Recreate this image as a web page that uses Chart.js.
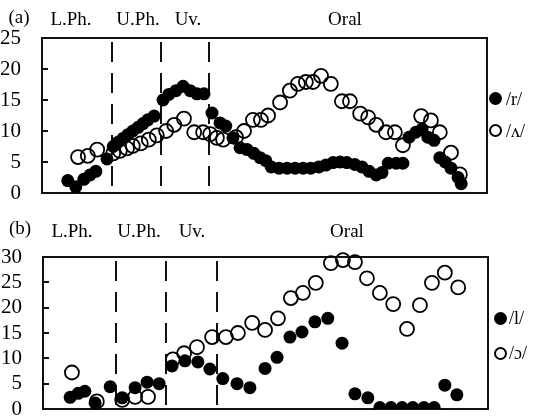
<!DOCTYPE html>
<html>
<head>
<meta charset="utf-8">
<script src="https://cdn.jsdelivr.net/npm/chart.js@4.4.0/dist/chart.umd.min.js"></script>
<style>
  body { margin: 0; background: #fff; width: 545px; height: 419px; position: relative; overflow: hidden;
         font-family: "Liberation Serif", "DejaVu Serif", serif; color: #000; }
  canvas { position: absolute; left: 0; }
  .lbl { position: absolute; font-size: 19px; line-height: 19px; white-space: nowrap; transform: translateX(-50%); }
  .key { position: absolute; font-size: 18px; line-height: 18px; white-space: nowrap; }
  .dot { position: absolute; width: 13px; height: 13px; border-radius: 50%; box-sizing: border-box; }
</style>
</head>
<body>
<canvas id="chartA" width="545" height="223" style="top:0"></canvas>
<canvas id="chartB" width="545" height="229" style="top:210px"></canvas>

<div class="lbl" style="left:19px;top:7px">(a)</div>
<div class="lbl" style="left:71px;top:9px">L.Ph.</div>
<div class="lbl" style="left:138px;top:9px">U.Ph.</div>
<div class="lbl" style="left:188px;top:9px">Uv.</div>
<div class="lbl" style="left:345px;top:9px">Oral</div>
<div class="dot" style="left:489px;top:92px;background:#000"></div>
<div class="key" style="left:506px;top:90px">/r/</div>
<div class="dot" style="left:489px;top:124px;border:2px solid #000"></div>
<div class="key" style="left:506px;top:122px">/ʌ/</div>

<div class="lbl" style="left:20px;top:218px">(b)</div>
<div class="lbl" style="left:72px;top:221px">L.Ph.</div>
<div class="lbl" style="left:139px;top:221px">U.Ph.</div>
<div class="lbl" style="left:192px;top:221px">Uv.</div>
<div class="lbl" style="left:347px;top:221px">Oral</div>
<div class="dot" style="left:494px;top:312px;background:#000"></div>
<div class="key" style="left:509px;top:309px">/l/</div>
<div class="dot" style="left:494px;top:347px;border:2px solid #000"></div>
<div class="key" style="left:509px;top:344px">/ɔ/</div>

<script>
// Panel (a): /r/ (filled) and /ʌ/ (open), position along the tract vs. area
const aFilledX = [5.8, 7.6, 9.4, 10.8, 12.1, 14.6, 16.0, 17.1, 18.2, 19.3, 20.4, 21.6, 22.7, 23.8, 25.2,
  27.2, 28.5, 30.1, 31.7, 33.3, 34.8, 36.4, 38.2, 40.0, 41.3, 42.9, 44.5, 46.1, 47.6, 49.0,
  50.3, 51.5, 53.3, 55.1, 56.9, 58.7, 60.4, 62.2, 63.8, 65.4, 67.0, 68.5, 70.3, 71.9, 73.5,
  75.1, 76.4, 77.8, 79.6, 81.1, 82.5, 84.0, 85.4, 86.7, 88.1, 89.4, 90.6, 91.9, 93.5, 94.2];
const aFilledY = [2.0, 1.0, 2.2, 2.9, 3.5, 5.5, 7.5, 8.2, 8.8, 9.4, 10.0, 10.6, 11.2, 11.8, 12.4,
  15.0, 15.9, 16.5, 17.2, 16.5, 16.0, 16.0, 12.9, 11.3, 10.8, 8.9, 7.3, 7.0, 6.4, 5.7,
  5.2, 4.2, 4.0, 4.0, 4.0, 4.0, 4.0, 4.2, 4.5, 4.9, 5.0, 4.9, 4.6, 4.2, 3.5,
  2.9, 3.3, 4.8, 4.8, 4.8, 9.0, 9.8, 10.3, 9.0, 8.5, 5.7, 5.0, 4.0, 2.5, 1.5];
const aOpenX = [8.1, 10.3, 12.4, 16.0, 17.5, 19.1, 20.4, 22.2, 24.0, 25.8, 27.9, 29.7, 31.9, 34.2, 36.2,
  37.8, 39.3, 40.7, 43.6, 45.4, 47.4, 49.2, 50.8, 53.5, 55.7, 57.5, 59.3, 60.9, 62.7, 64.9,
  67.4, 69.2, 71.5, 73.3, 75.1, 77.3, 79.3, 81.1, 85.2, 87.4, 89.4, 91.9, 93.9];
const aOpenY = [5.8, 6.0, 7.0, 6.4, 6.8, 7.2, 7.6, 8.0, 8.6, 9.3, 10.0, 11.0, 12.0, 9.8, 9.8,
  9.5, 8.9, 8.6, 9.0, 10.0, 11.8, 11.8, 12.5, 14.6, 16.5, 17.6, 17.9, 17.9, 18.9, 17.6,
  14.8, 14.8, 12.8, 12.2, 11.0, 9.8, 9.8, 7.7, 12.4, 11.7, 9.8, 6.5, 3.0];
const aBounds = [15.7, 26.7, 37.5];

// Panel (b): /l/ (filled) and /ɔ/ (open)
const bFilledX = [6.1, 7.9, 9.4, 11.7, 15.1, 17.8, 20.7, 23.4, 26.1, 29.0, 31.9, 34.8, 37.5, 40.4, 43.6,
  46.5, 49.9, 52.6, 55.5, 58.2, 61.1, 64.0, 67.2, 70.1, 73.0, 75.7, 78.2, 80.7, 83.1, 85.6,
  87.9, 90.3, 93.0];
const bFilledY = [2.3, 3.1, 3.5, 1.2, 4.4, 2.2, 4.2, 5.3, 5.0, 8.5, 9.5, 9.3, 7.9, 6.0, 5.0,
  4.2, 8.0, 10.2, 14.2, 15.2, 17.2, 17.9, 13.0, 3.0, 2.2, 0.3, 0.3, 0.3, 0.3, 0.3,
  0.3, 4.7, 2.8];
const bOpenX = [6.5, 12.1, 17.8, 20.7, 23.6, 29.2, 31.7, 34.6, 38.0, 41.1, 43.8, 47.0, 49.9, 52.8, 55.7,
  58.4, 61.3, 64.7, 67.4, 70.1, 72.8, 75.7, 78.7, 81.8, 84.7, 87.4, 90.3, 93.3];
const bOpenY = [7.2, 1.5, 1.8, 2.4, 2.4, 9.8, 11.0, 12.2, 14.2, 14.2, 15.0, 17.0, 15.6, 17.9, 21.9,
  22.9, 24.9, 28.8, 29.4, 29.0, 25.8, 22.9, 20.7, 15.8, 20.5, 24.9, 26.9, 24.0];
const bBounds = [16.4, 27.6, 39.1];

const yMaxA = 25;
const yMaxB = 30;

function toPoints(xs, ys) {
  return xs.map((x, i) => ({ x: x, y: ys[i] }));
}

// frame, inward ticks and dashed region boundaries
const framePlugin = {
  id: 'frame',
  beforeDatasetsDraw(chart, args, opts) {
    const ctx = chart.ctx;
    const a = chart.chartArea;
    const x = chart.scales.x, y = chart.scales.y;
    ctx.save();
    ctx.strokeStyle = '#111';
    ctx.lineWidth = 2;
    ctx.setLineDash([20, 11]);
    opts.bounds.forEach(function(v) {
      const px = Math.round(x.getPixelForValue(v));
      ctx.beginPath();
      ctx.moveTo(px, a.top + 4);
      ctx.lineTo(px, a.bottom);
      ctx.stroke();
    });
    ctx.setLineDash([]);
    ctx.strokeRect(a.left, a.top, a.right - a.left, a.bottom - a.top);
    y.ticks.forEach(function(t) {
      const py = Math.round(y.getPixelForValue(t.value));
      ctx.beginPath();
      ctx.moveTo(a.left, py);
      ctx.lineTo(a.left + 6, py);
      ctx.stroke();
    });
    ctx.restore();
  }
};

function makeChart(id, filled, open, yMax, bounds, axisWidth, padding) {
  return new Chart(document.getElementById(id), {
    type: 'scatter',
    data: {
      datasets: [
        {
          data: open,
          pointRadius: 7,
          pointBackgroundColor: 'rgba(0,0,0,0)',
          pointBorderColor: '#000',
          pointBorderWidth: 1.8,
          clip: false
        },
        {
          data: filled,
          pointRadius: 6.5,
          pointBackgroundColor: '#000',
          pointBorderColor: '#000',
          pointBorderWidth: 0,
          clip: { left: 10, top: 10, right: 10, bottom: 0 }
        }
      ]
    },
    options: {
      responsive: false,
      animation: false,
      devicePixelRatio: 1,
      layout: { padding: padding },
      plugins: {
        legend: { display: false },
        tooltip: { enabled: false },
        frame: { bounds: bounds }
      },
      scales: {
        x: { type: 'linear', min: 0, max: 100, display: false },
        y: {
          min: 0,
          max: yMax,
          ticks: {
            stepSize: 5,
            autoSkip: false,
            color: '#000',
            padding: 13,
            font: { family: '"Liberation Serif", serif', size: 21 }
          },
          grid: { display: false },
          border: { display: false },
          afterFit: function(scale) { scale.width = axisWidth; }
        }
      }
    },
    plugins: [framePlugin]
  });
}

makeChart('chartA', toPoints(aFilledX, aFilledY), toPoints(aOpenX, aOpenY), yMaxA, aBounds, 42,
  { top: 38, right: 58, bottom: 30, left: 0 });
makeChart('chartB', toPoints(bFilledX, bFilledY), toPoints(bOpenX, bOpenY), yMaxB, bBounds, 43,
  { top: 47, right: 57, bottom: 30, left: 0 });
</script>
</body>
</html>
